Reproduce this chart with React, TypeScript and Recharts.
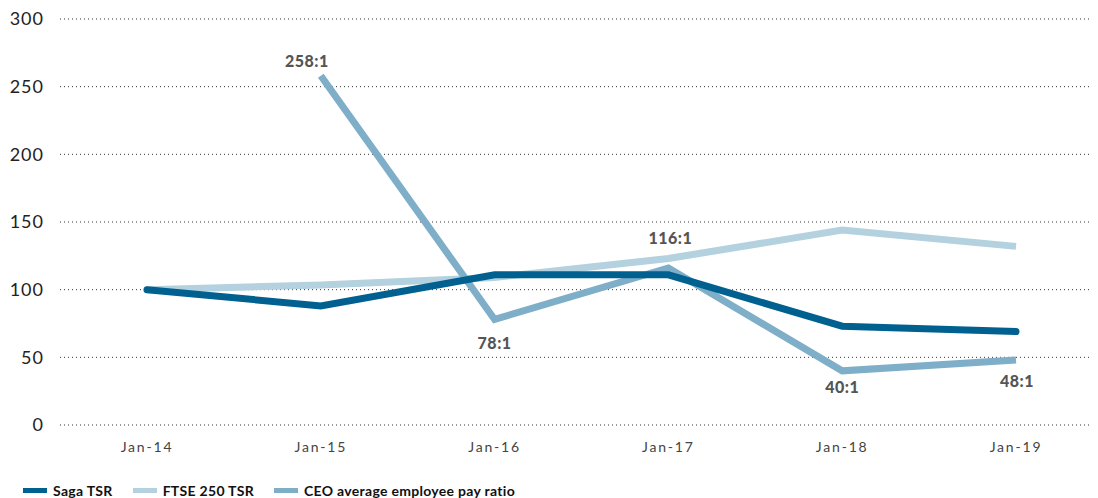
import React from "react";
import { LineChart, Line, XAxis, YAxis, CartesianGrid, Legend, LabelList } from "recharts";

const months = ["Jan-14", "Jan-15", "Jan-16", "Jan-17", "Jan-18", "Jan-19"];
const sagaTsr = [100, 88, 111, 111, 73, 69];
const ftseTsr = [100, 103.5, 109, 123, 144, 132];
const payRatio: (number | null)[] = [null, 258, 78, 116, 40, 48];
const yTicks = [0, 50, 100, 150, 200, 250, 300];

// label nudges for the pay ratio values (dx, dy from the point)
const labelNudge = [
  [0, 0], [-14, -15], [0, 23], [2, -31], [0, 16], [1, 20],
];

const SAGA = "#00608F";
const FTSE = "#B3D1DF";
const CEO = "#7FAFC8";
const FONT = "Lato, sans-serif";

const data = months.map((m, i) => ({
  month: m,
  saga: sagaTsr[i],
  ftse: ftseTsr[i],
  ratio: payRatio[i],
}));

const RatioLabel = (props: any) => {
  const { x, y, value, index } = props;
  if (value == null) return null;
  const [dx, dy] = labelNudge[index];
  return (
    <text
      x={x + dx}
      y={y + dy}
      textAnchor="middle"
      dominantBaseline="central"
      fill="#555"
      fontSize={16}
      fontWeight={900}
      letterSpacing={0.5}
      fontFamily={FONT}
    >
      {value}:1
    </text>
  );
};

const legendItems = [
  { label: "Saga TSR", color: SAGA },
  { label: "FTSE 250 TSR", color: FTSE },
  { label: "CEO average employee pay ratio", color: CEO },
];

const LegendContent = () => (
  <div style={{ display: "flex", paddingTop: 27, paddingLeft: 15, fontFamily: FONT, fontWeight: 700, fontSize: 14, color: "#111", letterSpacing: 0.3 }}>
    {legendItems.map((it) => (
      <div key={it.label} style={{ display: "flex", alignItems: "center", marginRight: 20 }}>
        <span style={{ display: "inline-block", width: 24, height: 5, background: it.color, marginRight: 6 }} />
        <span>{it.label}</span>
      </div>
    ))}
  </div>
);

export default function App() {
  return (
    <div style={{ width: 1090, height: 490, overflow: "hidden" }}>
      <LineChart width={1100} height={490} data={data} margin={{ top: 11, right: 5, left: 0, bottom: 0 }}>
        <CartesianGrid horizontal vertical={false} stroke="#333" strokeDasharray="1 3" />
        <XAxis
          dataKey="month"
          axisLine={false}
          tickLine={false}
          tickSize={0}
          tickMargin={17}
          height={30}
          padding={{ left: 87, right: 87 }}
          tick={{ fill: "#444", fontSize: 14, fontFamily: FONT, letterSpacing: 1.8 }}
        />
        <YAxis
          domain={[0, 300]}
          ticks={yTicks}
          axisLine={false}
          tickLine={false}
          tickSize={0}
          tickMargin={16}
          width={52}
          tick={{ fill: "#222", fontSize: 18, fontFamily: FONT, letterSpacing: 1 }}
        />
        <Legend verticalAlign="bottom" align="left" height={43} content={<LegendContent />} />
        <Line
          dataKey="ftse"
          stroke={FTSE}
          strokeWidth={7}
          dot={false}
          type="linear"
          isAnimationActive={false}
        />
        <Line
          dataKey="ratio"
          stroke={CEO}
          strokeWidth={7}
          dot={false}
          type="linear"
          isAnimationActive={false}
        >
          <LabelList dataKey="ratio" content={<RatioLabel />} />
        </Line>
        <Line
          dataKey="saga"
          stroke={SAGA}
          strokeWidth={7}
          strokeLinecap="round"
          dot={false}
          type="linear"
          isAnimationActive={false}
        />
      </LineChart>
    </div>
  );
}
